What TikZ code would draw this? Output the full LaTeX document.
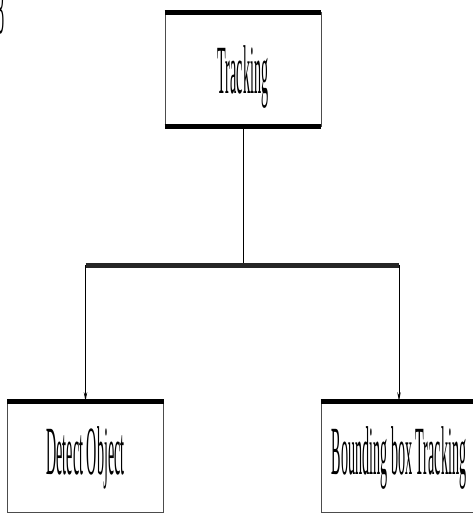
\documentclass[tikz,border=0pt]{standalone}
\usepackage{fontspec}
\setmainfont{Liberation Serif}
\usetikzlibrary{arrows.meta}

\newcommand{\squeezed}[1]{\scalebox{0.205}[1]{#1}}

\tikzset{
  taskbox/.style={draw=black!70, line width=0.8pt, rectangle, inner sep=0pt,
    minimum width=156pt, font=\fontsize{69}{80}\selectfont, text depth=0pt},
  topbox/.style={taskbox, minimum height=113.5pt, text height=47.5pt},
  subbox/.style={taskbox, minimum height=110.5pt, text height=34.5pt},
  bar/.style={line width=5pt},
  link/.style={line width=0.9pt},
  tip/.style={link, -{Stealth[length=9pt,width=3.5pt]}}
}

\begin{document}
\begin{tikzpicture}[x=1pt, y=-1pt]
\useasboundingbox (0,0) rectangle (472,514);

\node [topbox] (track) at (243,69.25) {\squeezed{Tracking}};
\node [subbox] (detect) at (85.5,456.75) {\squeezed{Detect Object}};
\node [subbox] (bbox) at (399,456.75) {\squeezed{Bounding box Tracking}};

% cut off label at the left edge
\node [anchor=north east, inner sep=0pt, font=\fontsize{69}{80}\selectfont] (cut) at (5,-12) {\squeezed{3}};

\draw [bar] (track.north west) -- (track.north east);
\draw [bar] (track.south west) -- (track.south east);
\draw [bar] (detect.north west) -- (detect.north east);
\draw [bar] (bbox.north west) -- (bbox.north east);

\coordinate (split) at (track.south |- 0,265);
\coordinate (left) at (detect.north |- split);
\coordinate (right) at (bbox.north |- split);

\draw [link] (track.south) -- (split);
\draw [bar, black!85] (left) -- (right);
\draw [tip] (left) -- (detect.north);
\draw [tip] (right) -- (bbox.north);
\end{tikzpicture}
\end{document}
